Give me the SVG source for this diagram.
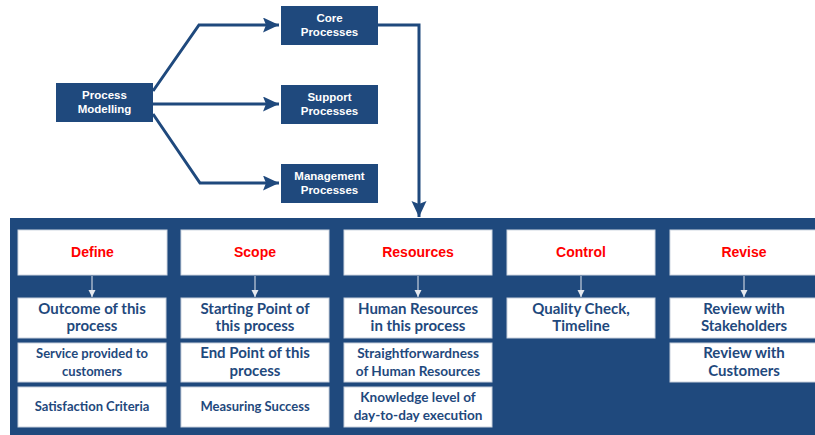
<svg xmlns="http://www.w3.org/2000/svg" width="815" height="435" viewBox="0 0 815 435">
<style>
.nb{fill:#1F497D}
.tw{font-family:"Liberation Sans",Arial,sans-serif;font-weight:bold;font-size:11.5px;fill:#fff;text-anchor:middle}
.hd{fill:#fff;stroke:#d0d7e2;stroke-width:1}
.ht{font-family:"Liberation Sans",Arial,sans-serif;font-weight:bold;font-size:14px;fill:#FF0000;text-anchor:middle}
.sb{fill:#fff;stroke:#c8d0dc;stroke-width:1}
.s1{font-family:Lato,"Liberation Sans",sans-serif;font-weight:bold;font-size:15px;fill:#1F497D;text-anchor:middle}
.s2{font-family:Lato,"Liberation Sans",sans-serif;font-weight:bold;font-size:13px;fill:#1F497D;text-anchor:middle}
.s3{font-family:Lato,"Liberation Sans",sans-serif;font-weight:bold;font-size:13.6px;fill:#1F497D;text-anchor:middle}
.cn{fill:none;stroke:#1F497D;stroke-width:3}
.sm{fill:none;stroke:#e6e9ef;stroke-width:1}
</style>
<defs>
<marker id="ah" markerUnits="userSpaceOnUse" markerWidth="18" markerHeight="16" refX="16" refY="7.5" orient="auto">
<path d="M0,0 L16,7.5 L0,15 L3,7.5 z" fill="#1F497D"/>
</marker>
<marker id="ahs" markerUnits="userSpaceOnUse" markerWidth="8" markerHeight="8" refX="7" refY="3.5" orient="auto">
<path d="M0,0 L7,3.5 L0,7 z" fill="#e6e9ef"/>
</marker>
</defs>
<rect width="815" height="435" fill="#fff"/>
<rect id="panel" x="10" y="218" width="805" height="217" class="nb"/>
<g id="connectors">
<polyline class="cn" points="153,91 199,25 279,25" marker-end="url(#ah)"/>
<line class="cn" x1="153" y1="104" x2="279" y2="104" marker-end="url(#ah)"/>
<polyline class="cn" points="153,114 200,183 279,183" marker-end="url(#ah)"/>
<polyline class="cn" points="378,25 419,25 419,217" marker-end="url(#ah)"/>
<line class="sm" x1="92" y1="276" x2="92" y2="297" marker-end="url(#ahs)"/>
<line class="sm" x1="255" y1="276" x2="255" y2="297" marker-end="url(#ahs)"/>
<line class="sm" x1="418" y1="276" x2="418" y2="297" marker-end="url(#ahs)"/>
<line class="sm" x1="581" y1="276" x2="581" y2="297" marker-end="url(#ahs)"/>
<line class="sm" x1="744" y1="276" x2="744" y2="297" marker-end="url(#ahs)"/>
</g>
<g id="process-modelling"><rect class="nb" x="56" y="83" width="97" height="39"/><text class="tw" x="104.5" y="99">Process</text><text class="tw" x="104.5" y="113">Modelling</text></g>
<g id="core"><rect class="nb" x="281" y="6" width="97" height="39"/><text class="tw" x="329.5" y="22">Core</text><text class="tw" x="329.5" y="36">Processes</text></g>
<g id="support"><rect class="nb" x="281" y="85" width="97" height="39"/><text class="tw" x="329.5" y="101">Support</text><text class="tw" x="329.5" y="115">Processes</text></g>
<g id="management"><rect class="nb" x="281" y="164" width="97" height="39"/><text class="tw" x="329.5" y="180">Management</text><text class="tw" x="329.5" y="194">Processes</text></g>

<g id="define"><rect class="hd" x="18" y="230" width="149" height="45"/><text class="ht" x="92.5" y="257">Define</text></g>
<g id="scope"><rect class="hd" x="181" y="230" width="148" height="45"/><text class="ht" x="255" y="257">Scope</text></g>
<g id="resources"><rect class="hd" x="344" y="230" width="148" height="45"/><text class="ht" x="418" y="257">Resources</text></g>
<g id="control"><rect class="hd" x="507" y="230" width="148" height="45"/><text class="ht" x="581" y="257">Control</text></g>
<g id="revise"><rect class="hd" x="670" y="230" width="150" height="45"/><text class="ht" x="744" y="257">Revise</text></g>

<g id="define-1"><rect class="sb" x="18" y="298" width="148" height="40"/><text class="s1" x="92" y="314">Outcome of this</text><text class="s1" x="92" y="331">process</text></g>
<g id="define-2"><rect class="sb" x="18" y="343" width="148" height="39"/><text class="s2" x="92" y="358">Service provided to</text><text class="s2" x="92" y="376">customers</text></g>
<g id="define-3"><rect class="sb" x="18" y="387" width="148" height="40"/><text class="s2" x="92" y="411">Satisfaction Criteria</text></g>

<g id="scope-1"><rect class="sb" x="181" y="298" width="148" height="40"/><text class="s1" x="255" y="314">Starting Point of</text><text class="s1" x="255" y="331">this process</text></g>
<g id="scope-2"><rect class="sb" x="181" y="343" width="148" height="39"/><text class="s1" x="255" y="358">End Point of this</text><text class="s1" x="255" y="376">process</text></g>
<g id="scope-3"><rect class="sb" x="181" y="387" width="148" height="40"/><text class="s2" x="255" y="411">Measuring Success</text></g>

<g id="resources-1"><rect class="sb" x="344" y="298" width="148" height="40"/><text class="s1" x="418" y="314">Human Resources</text><text class="s1" x="418" y="331">in this process</text></g>
<g id="resources-2"><rect class="sb" x="344" y="343" width="148" height="39"/><text class="s3" x="418" y="358">Straightforwardness</text><text class="s3" x="418" y="376">of Human Resources</text></g>
<g id="resources-3"><rect class="sb" x="344" y="387" width="148" height="40"/><text class="s3" x="418" y="402">Knowledge level of</text><text class="s3" x="418" y="420">day-to-day execution</text></g>

<g id="control-1"><rect class="sb" x="507" y="298" width="148" height="40"/><text class="s1" x="581" y="314">Quality Check,</text><text class="s1" x="581" y="331">Timeline</text></g>

<g id="revise-1"><rect class="sb" x="670" y="298" width="150" height="40"/><text class="s1" x="744" y="314">Review with</text><text class="s1" x="744" y="331">Stakeholders</text></g>
<g id="revise-2"><rect class="sb" x="670" y="343" width="150" height="39"/><text class="s1" x="744" y="358">Review with</text><text class="s1" x="744" y="376">Customers</text></g>
</svg>
